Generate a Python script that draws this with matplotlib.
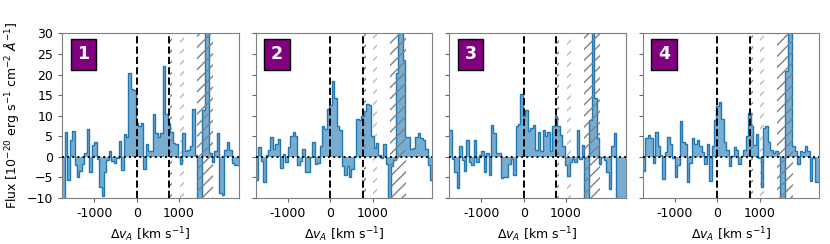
import numpy as np
import matplotlib
matplotlib.use('Agg')
import matplotlib.pyplot as plt

# velocity grid (bin edges, km/s)
v_start = -1760
v_step = 58
n_bins = 72

flux_1 = [-12, 6.0, -5.7, 4.1, 6.3, -1.9, -4.8, -3.4, -1.8, 0.9, 6.8, -3.8,
          2.9, 3.5, -0.6, -7.4, -9.5, -3.6, -0.7, 1.4, -1.1, -1.5, -0.2, 3.9,
          -3.2, 5.6, 4.7, 20.4, 16.5, 16.2, 8.3, 7.6, 8.2, -3.0, 3.2, 1.4,
          1.4, 10.3, 5.9, 4.7, 5.9, 22.0, 10.4, 8.2, 6.0, 3.3, 3.1, 0.0,
          -1.8, 5.9, 1.3, 1.7, 2.5, 11.7, 0.5, -12, -12, 11.4, 35, 35,
          0.8, -1.3, 1.4, 5.9, -8.8, -9.2, 1.7, 3.6, 1.7, -1.4, -1.9, -1.9]
flux_2 = [-5.7, 2.4, -1.1, -6.2, 0.4, 1.7, 4.9, 1.9, 3.2, 4.3, -2.7, 0.7,
          -1.3, 2.4, 5.0, 6.1, 5.1, -2.1, -1.0, 2.0, -3.6, -3.8, 0.0, 3.5,
          -1.7, -1.5, 2.5, 7.4, 6.7, 11.6, 12.6, 18.4, 14.2, 7.4, 6.4, -2.3,
          -4.5, -2.3, -4.9, -2.9, 0.0, 9.2, 9.0, 9.8, 11.2, 12.9, 12.6, 5.1,
          2.1, 3.3, 0.4, -0.2, 3.2, -1.8, -12, -2.3, -0.7, 20.3, 35, 35,
          23.5, 4.8, 4.8, 1.9, 2.1, 4.8, 5.7, 4.5, 4.1, 1.8, -1.9, -5.7]
flux_3 = [6.5, -0.6, -3.8, -7.6, 2.7, -0.7, -3.4, 4.0, -1.3, -2.1, 4.0, -1.3,
          0.5, 1.5, -3.7, 0.8, -4.5, 7.8, 5.9, 0.9, 0.8, -5.2, -4.9, -5.0,
          -1.8, -0.5, -4.5, 7.6, 8.0, 15.3, 9.8, 11.4, 6.3, 7.0, 7.8, 1.7,
          6.1, 1.5, 6.5, 5.1, 6.1, 1.5, 7.5, 9.8, 7.4, 5.4, 2.5, -2.0,
          -4.6, -1.3, -0.5, -1.3, 6.5, -0.6, 2.8, -12, -12, 9.0, 35, 14.4,
          4.5, -1.8, 0.0, -0.7, -3.6, -7.8, 2.5, 5.7, -12, -12, -12, -12]
flux_4 = [-3.4, 4.5, 5.3, 4.5, -1.5, 6.1, 2.7, 0.5, -5.4, 1.1, 4.8, 3.2,
          -0.2, -4.9, -2.1, 8.6, 3.7, 3.2, -6.1, -1.5, 4.5, 3.2, 4.0, 2.7,
          1.1, -1.8, 3.2, -5.8, 2.7, 9.0, 12.4, 13.2, 9.1, 3.7, 1.7, -2.3,
          0.1, 2.3, 1.7, -1.7, 0.1, 1.7, 5.1, 10.6, 7.5, 2.9, 5.5, -0.3,
          -7.4, 7.0, 7.5, 3.7, 1.7, 0.9, 1.3, 0.1, -12, -12, 20.9, 35, 35,
          2.5, 1.3, -1.7, 1.3, 1.1, 2.7, 1.3, -6.0, -0.3, -6.2, -6.2]

panels = ['1', '2', '3', '4']
fluxes = [flux_1, flux_2, flux_3, flux_4]

# marked velocities and masked (sky) regions
v_lines = [0, 770]
masks = [(790, 840, 1.0), (1020, 1110, 0.55), (1420, 1800, 1.0)]

edges = v_start + v_step * np.arange(n_bins + 1)

fig, axes = plt.subplots(1, 4, figsize=(8.3, 2.44), dpi=100, sharey=True)
fig.subplots_adjust(left=0.075, right=0.987, top=0.863, bottom=0.189, wspace=0.097)

for ax, lab, f in zip(axes, panels, fluxes):
    f = np.array(f)
    for lo, hi, a in masks:
        ax.axvspan(lo, hi, facecolor='none', edgecolor='gray', hatch='///',
                   lw=0, alpha=a, zorder=3)
    ax.stairs(f, edges, baseline=0, fill=True, color='tab:blue', alpha=0.6, zorder=1)
    ax.stairs(f, edges, baseline=None, color='tab:blue', lw=1.0, zorder=2)
    for v in v_lines:
        ax.axvline(v, color='k', ls='--', lw=1.4, zorder=4)
    ax.axhline(0, color='k', ls=':', lw=1.4, zorder=4)
    ax.text(0.12, 0.872, lab, transform=ax.transAxes, color='white', fontsize=12.5,
            fontweight='bold', ha='center', va='center', zorder=5,
            bbox=dict(boxstyle='square,pad=0.38', facecolor='purple', edgecolor='k', lw=1))
    ax.set_xlim(-1760, 2410)
    ax.set_ylim(-10, 30)
    ax.set_xticks([-1000, 0, 1000])
    ax.set_xticklabels(['-1000', '0', '1000'])
    ax.set_yticks(np.arange(-10, 31, 5))
    ax.tick_params(labelsize=9, color='0.4', length=3)
    for s in ax.spines.values():
        s.set_color('0.5')
    ax.set_xlabel(r'$\Delta v_A$ [km s$^{-1}$]', fontsize=9)

axes[0].set_ylabel(r'Flux [$10^{-20}$ erg s$^{-1}$ cm$^{-2}$ $\AA^{-1}$]', fontsize=9)

plt.savefig('out.png', dpi=100)
